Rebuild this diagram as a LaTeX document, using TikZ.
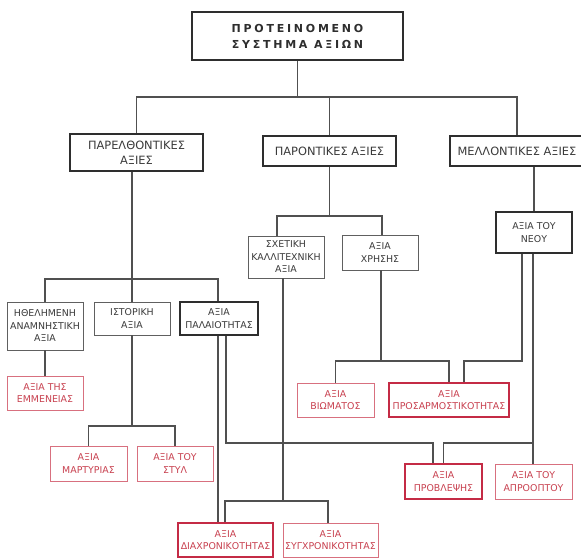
\documentclass[tikz,border=0pt]{standalone}
\usepackage{fontspec}
\setmainfont{DejaVu Sans}
\newfontfamily\titlefont{DejaVu Sans}[LetterSpace=25]
\definecolor{linegray}{HTML}{505050}
\definecolor{boxgray}{HTML}{606060}
\definecolor{darkline}{HTML}{2E2E2E}
\definecolor{textgray}{HTML}{3A3A3A}
\definecolor{redthick}{HTML}{C42B45}
\definecolor{redthin}{HTML}{D8707F}
\definecolor{redtext}{HTML}{C8404F}
\tikzset{
  conn/.style={draw=linegray, line width=1.1pt},
  box/.style={draw=boxgray, line width=0.9pt, fill=white, inner sep=0pt, align=center,
    text=textgray, font=\fontsize{9.4}{12.5}\selectfont},
  thickbox/.style={box, draw=darkline, line width=2.3pt},
  headbox/.style={thickbox, font=\fontsize{11.4}{15}\selectfont},
  redbox/.style={box, draw=redthin, text=redtext},
  redthickbox/.style={box, draw=redthick, line width=2pt, text=redtext},
}
\begin{document}
\begin{tikzpicture}[x=1pt,y=-1pt]
\useasboundingbox (0,0) rectangle (581,558);
% nodes
\node[thickbox, minimum width=211pt, minimum height=48pt, font=\titlefont\bfseries\fontsize{11}{16}\selectfont, text=darkline] (top) at (297.5,36) {ΠΡΟΤΕΙΝΟΜΕΝΟ\\ΣΥΣΤΗΜΑ ΑΞΙΩΝ};
\node[headbox, minimum width=133pt, minimum height=37pt] (past) at (136.5,152.5) {ΠΑΡΕΛΘΟΝΤΙΚΕΣ\\ΑΞΙΕΣ};
\node[headbox, minimum width=133pt, minimum height=30pt] (present) at (329.5,151) {ΠΑΡΟΝΤΙΚΕΣ ΑΞΙΕΣ};
\node[headbox, minimum width=134pt, minimum height=30pt] (future) at (517,151) {ΜΕΛΛΟΝΤΙΚΕΣ ΑΞΙΕΣ};
\node[box, minimum width=76pt, minimum height=42pt] (sxet) at (286,257) {ΣΧΕΤΙΚΗ\\ΚΑΛΛΙΤΕΧΝΙΚΗ\\ΑΞΙΑ};
\node[box, minimum width=76pt, minimum height=35pt] (xris) at (380,252.5) {ΑΞΙΑ\\ΧΡΗΣΗΣ};
\node[thickbox, minimum width=76pt, minimum height=41pt] (neou) at (534,232.5) {ΑΞΙΑ ΤΟΥ\\ΝΕΟΥ};
\node[box, minimum width=76pt, minimum height=48pt] (ithel) at (45,326) {ΗΘΕΛΗΜΕΝΗ\\ΑΝΑΜΝΗΣΤΙΚΗ\\ΑΞΙΑ};
\node[box, minimum width=76pt, minimum height=33pt] (istoriki) at (132,318.5) {ΙΣΤΟΡΙΚΗ\\ΑΞΙΑ};
\node[thickbox, minimum width=78pt, minimum height=33pt] (palaio) at (219,318.5) {ΑΞΙΑ\\ΠΑΛΑΙΟΤΗΤΑΣ};
\node[redbox, minimum width=76pt, minimum height=34pt] (emmen) at (45,393) {ΑΞΙΑ ΤΗΣ\\ΕΜΜΕΝΕΙΑΣ};
\node[redbox, minimum width=77pt, minimum height=34pt] (viom) at (335.5,400) {ΑΞΙΑ\\ΒΙΩΜΑΤΟΣ};
\node[redthickbox, minimum width=120pt, minimum height=34pt] (prosarm) at (449,400) {ΑΞΙΑ\\ΠΡΟΣΑΡΜΟΣΤΙΚΟΤΗΤΑΣ};
\node[redbox, minimum width=77pt, minimum height=35pt] (martyr) at (88.5,463.5) {ΑΞΙΑ\\ΜΑΡΤΥΡΙΑΣ};
\node[redbox, minimum width=76pt, minimum height=35pt] (styl) at (175,463.5) {ΑΞΙΑ ΤΟΥ\\ΣΤΥΛ};
\node[redthickbox, minimum width=77pt, minimum height=35pt] (provl) at (443.5,481.5) {ΑΞΙΑ\\ΠΡΟΒΛΕΨΗΣ};
\node[redbox, minimum width=77pt, minimum height=35pt] (aproopt) at (533.5,481.5) {ΑΞΙΑ ΤΟΥ\\ΑΠΡΟΟΠΤΟΥ};
\node[redthickbox, minimum width=95pt, minimum height=34pt] (diaxron) at (225.5,540) {ΑΞΙΑ\\ΔΙΑΧΡΟΝΙΚΟΤΗΤΑΣ};
\node[redbox, minimum width=95pt, minimum height=34pt] (sygx) at (330.5,540) {ΑΞΙΑ\\ΣΥΓΧΡΟΝΙΚΟΤΗΤΑΣ};
% connectors: top level
\coordinate (j0) at (297.5,97);
\draw[conn] (top.south) -- (j0);
\draw[conn] (past.north) |- (j0) -| (future.north);
\draw[conn] (present.north) -- (present.north |- j0);
% past values
\coordinate (pb) at ([xshift=-4.5pt]past.south);
\coordinate (j1) at (132,279);
\draw[conn] (pb) -- (j1) -- (istoriki.north);
\draw[conn] (ithel.north) |- (j1) -| ([xshift=-1pt]palaio.north);
\draw[conn] (ithel.south) -- (emmen.north);
\coordinate (j2) at (132,426);
\draw[conn] (istoriki.south) -- (j2);
\draw[conn] (martyr.north) |- (j2) -| (styl.north);
% palaiotita lines
\coordinate (pA) at ([xshift=-1pt]palaio.south);
\draw[conn] (pA) -- (pA |- diaxron.north);
\coordinate (pB) at ([xshift=7pt]palaio.south);
\coordinate (j3) at (433,443);
\draw[conn] (pB) |- (j3) -- (j3 |- provl.north);
% present values
\coordinate (j4) at (329.5,216);
\draw[conn] (present.south) -- (j4);
\draw[conn] ([xshift=-9pt]sxet.north) |- (j4) -| ([xshift=2pt]xris.north);
\coordinate (sb) at ([xshift=-3pt]sxet.south);
\coordinate (j5) at (283,501);
\draw[conn] (sb) -- (j5);
\draw[conn] ([xshift=-0.5pt]diaxron.north) |- (j5) -| ([xshift=-2.5pt]sygx.north);
\coordinate (xb) at ([xshift=1pt]xris.south);
\coordinate (j6) at (381,361);
\draw[conn] (xb) -- (j6);
\draw[conn] (viom.north) |- (j6) -| (prosarm.north);
% future values
\draw[conn] (neou.north |- future.south) -- (neou.north);
\coordinate (nA) at ([xshift=-12pt]neou.south);
\coordinate (j7) at (522,361);
\draw[conn] (nA) -- (j7) -| ([xshift=15pt]prosarm.north);
\coordinate (nB) at ([xshift=-1pt]neou.south);
\coordinate (j8) at (533,443);
\draw[conn] (nB) -- (j8) -- (j8 |- aproopt.north);
\draw[conn] (j8) -| (provl.north);
\end{tikzpicture}
\end{document}
